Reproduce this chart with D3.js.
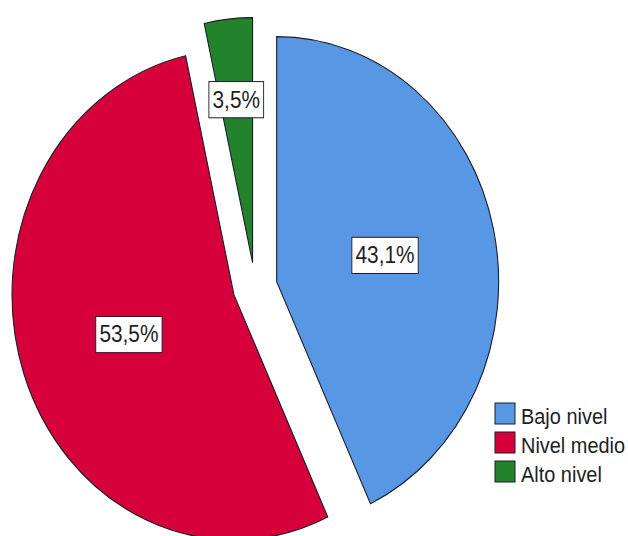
<!DOCTYPE html>
<html>
<head>
<meta charset="utf-8">
<script src="https://cdn.jsdelivr.net/npm/d3@7/dist/d3.min.js"></script>
<style>
  body { margin: 0; background: #fff; }
  text { font-family: Arial, "Liberation Sans", sans-serif; fill: #1e1e1e; }
</style>
</head>
<body>
<div id="chart"></div>
<script>
// data
var categories = ["Bajo nivel", "Nivel medio", "Alto nivel"];
var percents = [43.1, 53.5, 3.5];
var pctLabels = ["43,1%", "53,5%", "3,5%"];

var colors = ["#5897e3", "#d6003a", "#23832d"];

var width = 628, height = 536;
var cx = 255, cy = 287;
var radius = 245;
var squeeze = 0.906;   // the original picture is a bit narrower than tall
var explode = 24.5;

var svg = d3.select("#chart").append("svg")
    .attr("width", width)
    .attr("height", height);

var pie = d3.pie().sort(null).value(function(d){ return d; });
var arc = d3.arc().innerRadius(0).outerRadius(radius);

var arcs = pie(percents);

var g = svg.append("g")
    .attr("transform", "translate(" + cx + "," + cy + ") scale(" + squeeze + ",1)");

var slice = g.selectAll(".slice")
    .data(arcs)
    .enter().append("g")
    .attr("class", "slice")
    .attr("transform", function(d){
        var a = (d.startAngle + d.endAngle) / 2;
        return "translate(" + (Math.sin(a) * explode) + "," + (-Math.cos(a) * explode) + ")";
    });

slice.append("path")
    .attr("d", arc)
    .style("fill", function(d, i){ return colors[i]; })
    .style("stroke", "#1c1c2a")
    .style("stroke-width", 1.2);

// percentage labels in white boxes
var lab = slice.append("g")
    .attr("transform", function(d){
        var a = (d.startAngle + d.endAngle) / 2;
        var k = (d.endAngle - d.startAngle) < 0.3 ? 0.67 : 0.5;
        return "translate(" + (Math.sin(a) * radius * k) + "," + (-Math.cos(a) * radius * k) + ")";
    });

lab.append("rect").attr("class", "lbox");
lab.append("text")
    .attr("text-anchor", "middle")
    .attr("dy", "0.35em")
    .style("font-size", "23px")
    .text(function(d, i){ return pctLabels[i]; });

lab.each(function(){
    var t = d3.select(this).select("text").node().getBBox();
    d3.select(this).select("rect")
        .attr("x", t.x - 4)
        .attr("y", t.y - 5)
        .attr("width", t.width + 8)
        .attr("height", t.height + 10)
        .style("fill", "#fff")
        .style("stroke", "#1c1c2a")
        .style("stroke-width", 1);
});

// legend
var legend = svg.selectAll(".legend")
    .data(categories)
    .enter().append("g")
    .attr("class", "legend")
    .attr("transform", function(d, i){ return "translate(495," + (403 + i * 29) + ")"; });

legend.append("rect")
    .attr("width", 20)
    .attr("height", 21)
    .style("fill", function(d, i){ return colors[i]; })
    .style("stroke", "#1c1c2a")
    .style("stroke-width", 1);

legend.append("text")
    .attr("transform", "translate(26,21) scale(" + squeeze + ",1)")
    .style("font-size", "22px")
    .text(function(d){ return d; });
</script>
</body>
</html>
